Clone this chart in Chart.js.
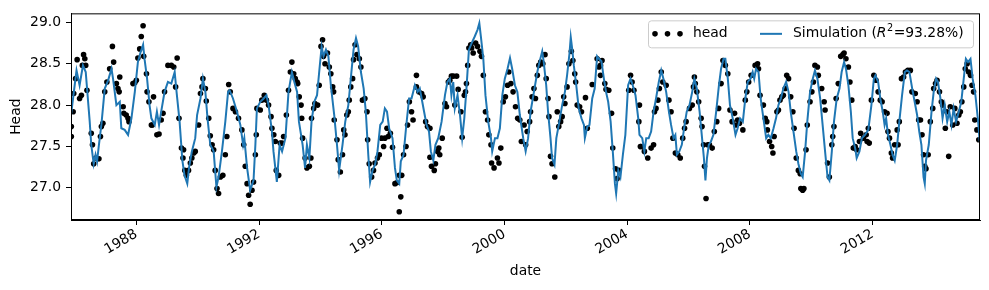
<!DOCTYPE html>
<html>
<head>
<meta charset="utf-8">
<script src="https://cdn.jsdelivr.net/npm/chart.js@4.4.1/dist/chart.umd.min.js"></script>
<style>
html, body { margin: 0; padding: 0; background: #fff; }
</style>
</head>
<body>
<canvas id="chart" width="989" height="290"></canvas>
<script>
// observed heads: [decimal year, head]
const headObs = [
  [1985.88,27.74],[1985.88,27.62],[1985.94,27.92],[1985.96,28.14],[1986.02,28.32],[1986.07,28.55],[1986.15,28.08],[1986.21,28.12],
  [1986.24,28.48],[1986.28,28.61],[1986.32,28.56],[1986.35,28.48],[1986.39,28.18],[1986.53,27.66],[1986.57,27.52],[1986.61,27.29],
  [1986.68,27.36],[1986.78,27.35],[1986.83,27.62],[1986.86,27.74],[1986.91,27.78],[1986.97,28.16],[1987.04,28.28],[1987.13,28.44],
  [1987.22,28.71],[1987.26,28.52],[1987.35,28.26],[1987.40,28.20],[1987.46,28.34],[1987.44,28.16],[1987.57,27.98],[1987.59,27.90],
  [1987.67,27.88],[1987.73,27.84],[1987.76,27.80],[1987.89,28.26],[1987.95,28.27],[1988.00,28.30],[1988.05,28.57],[1988.11,28.68],
  [1988.16,28.83],[1988.22,28.96],[1988.24,28.59],[1988.33,28.38],[1988.35,28.16],[1988.41,28.04],[1988.49,27.76],[1988.52,27.76],
  [1988.56,28.10],[1988.67,27.64],[1988.74,27.65],[1988.81,27.82],[1988.87,27.90],[1988.92,28.16],[1989.03,28.48],[1989.14,28.48],
  [1989.22,28.46],[1989.28,28.22],[1989.33,28.57],[1989.39,27.84],[1989.47,27.48],[1989.52,27.36],[1989.58,27.21],
  [1989.54,27.46],[1989.63,27.15],[1989.70,27.21],[1989.76,27.30],[1989.81,27.36],[1989.87,27.42],[1989.92,27.44],[1990.03,27.76],
  [1990.09,28.14],[1990.14,28.22],[1990.17,28.32],[1990.25,28.20],[1990.28,28.05],[1990.36,27.84],[1990.41,27.63],[1990.47,27.52],
  [1990.52,27.46],[1990.57,27.21],[1990.63,26.99],[1990.68,26.93],[1990.74,27.13],[1990.82,27.15],[1990.90,27.40],[1990.95,27.62],
  [1991.01,28.25],[1991.06,28.16],[1991.15,27.96],[1991.23,27.92],[1991.33,27.84],[1991.44,27.70],[1991.50,27.52],[1991.55,27.26],
  [1991.61,27.05],[1991.66,26.91],[1991.71,26.80],[1991.77,26.97],[1991.82,27.07],[1991.88,27.40],[1991.91,27.64],[1991.93,27.96],
  [1992.04,27.94],[1992.09,28.06],[1992.17,28.12],[1992.24,28.06],[1992.31,28.00],[1992.39,27.86],[1992.42,27.72],[1992.48,27.64],
  [1992.53,27.56],[1992.56,27.21],[1992.64,27.15],[1992.69,27.54],[1992.75,27.54],[1992.80,27.62],[1992.89,27.88],[1992.96,28.18],
  [1993.02,28.40],[1993.07,28.52],[1993.13,28.38],[1993.18,28.32],[1993.24,28.28],
  [1993.26,28.26],[1993.31,28.10],[1993.37,28.00],[1993.39,27.84],[1993.42,27.60],[1993.50,27.36],[1993.56,27.24],[1993.64,27.26],
  [1993.69,27.36],[1993.71,27.84],[1993.78,27.96],[1993.82,28.02],[1993.91,28.00],[1993.96,28.24],[1994.02,28.71],[1994.07,28.79],
  [1994.10,28.59],[1994.15,28.50],[1994.23,28.63],[1994.29,28.46],[1994.34,28.38],[1994.40,28.22],[1994.43,28.16],[1994.45,27.82],
  [1994.54,27.58],[1994.58,27.34],[1994.65,27.19],[1994.72,27.40],[1994.76,27.70],[1994.80,27.64],[1994.86,27.88],[1994.91,27.92],
  [1994.94,28.06],[1994.99,28.22],[1995.05,28.32],[1995.08,28.55],[1995.13,28.73],[1995.19,28.61],[1995.27,28.56],[1995.32,28.46],
  [1995.37,28.06],[1995.45,28.08],[1995.52,27.92],[1995.54,27.58],[1995.59,27.29],[1995.67,27.13],[1995.73,27.21],[1995.78,27.30],
  [1995.86,27.36],[1995.92,27.40],[1995.99,27.60],[1996.06,27.50],[1996.10,27.60],[1996.17,27.72],[1996.21,27.62],[1996.28,27.66],
  [1996.35,27.49],[1996.43,27.05],[1996.49,27.06],[1996.57,27.15],[1996.62,26.89],[1996.57,26.71],[1996.65,27.15],[1996.71,27.40],
  [1996.79,27.50],[1996.84,27.76],[1996.90,28.04],[1996.97,27.92],
  [1997.02,27.82],[1997.13,28.36],[1997.13,28.22],[1997.21,28.16],[1997.30,28.14],[1997.35,28.10],[1997.43,27.80],[1997.49,27.74],
  [1997.57,27.72],[1997.57,27.37],[1997.62,27.26],[1997.71,27.21],[1997.75,27.29],[1997.82,27.44],[1997.86,27.48],[1997.89,27.40],
  [1997.97,27.60],[1998.06,28.02],[1998.11,27.98],[1998.17,28.28],[1998.22,28.30],[1998.27,28.35],[1998.33,28.35],[1998.44,28.35],
  [1998.38,28.00],[1998.49,28.19],[1998.58,27.92],[1998.62,27.61],[1998.69,28.12],[1998.73,28.16],[1998.76,28.26],[1998.80,28.48],
  [1998.84,28.69],[1998.90,28.73],[1998.93,28.69],[1998.98,28.63],[1999.06,28.75],[1999.12,28.71],[1999.20,28.65],[1999.25,28.59],
  [1999.31,28.36],[1999.38,27.92],[1999.45,27.82],[1999.49,27.64],[1999.56,27.52],[1999.58,27.30],[1999.66,27.24],[1999.77,27.36],
  [1999.82,27.30],[1999.88,27.48],[1999.96,28.04],[2000.03,28.10],[2000.10,28.24],[2000.14,28.40],[2000.21,28.26],[2000.28,28.16],
  [2000.36,27.98],[2000.43,27.84],[2000.50,27.82],[2000.55,27.56],[2000.64,27.76],
  [2000.69,27.52],[2000.74,27.68],[2000.82,27.80],[2000.85,27.92],[2000.90,28.10],[2000.96,28.20],[2001.01,28.08],[2001.07,28.36],
  [2001.12,28.48],[2001.18,28.52],[2001.25,28.50],[2001.32,28.61],[2001.36,28.32],[2001.42,28.08],[2001.45,27.86],[2001.50,27.38],
  [2001.55,27.29],[2001.64,27.13],[2001.72,27.92],[2001.77,27.74],[2001.83,27.80],[2001.88,27.86],[2001.93,28.10],[2001.97,28.02],
  [2002.04,28.22],[2002.10,28.50],[2002.18,28.65],[2002.23,28.54],[2002.29,28.38],[2002.32,28.28],[2002.37,28.00],[2002.45,27.98],
  [2002.51,27.92],[2002.64,28.09],[2002.70,27.72],[2002.86,28.25],[2003.02,28.56],[2003.08,28.46],[2003.13,28.48],[2003.18,28.54],
  [2003.13,28.36],[2003.27,28.26],[2003.31,28.19],[2003.40,28.18],[2003.49,27.90],[2003.53,27.48],[2003.62,27.23],[2003.67,27.11],
  [2003.73,27.21],[2004.05,28.18],[2004.11,28.36],[2004.16,28.28],[2004.22,28.18],[2004.38,27.80],[2004.43,27.50],
  [2004.40,28.00],[2004.45,27.50],[2004.56,27.44],[2004.67,27.36],[2004.78,27.48],[2004.86,27.52],[2004.89,27.92],[2004.94,27.96],
  [2005.00,28.06],[2005.05,28.20],[2005.11,28.40],[2005.16,28.28],[2005.27,28.24],[2005.36,28.06],[2005.43,27.92],[2005.49,27.60],
  [2005.57,27.42],[2005.65,27.40],[2005.73,27.36],[2005.81,27.60],[2005.87,27.72],[2005.92,27.80],[2006.03,27.96],[2006.12,28.00],
  [2006.16,28.22],[2006.19,28.34],[2006.22,28.26],[2006.27,28.16],[2006.33,28.04],[2006.41,27.84],[2006.44,27.74],[2006.49,27.52],
  [2006.52,27.26],[2006.57,26.87],[2006.63,27.52],[2006.68,27.52],[2006.77,27.48],[2006.84,27.68],[2006.92,27.80],[2006.98,27.96],
  [2007.06,28.26],[2007.12,28.54],[2007.20,28.48],[2007.28,28.38],[2007.35,27.94],[2007.42,27.80],[2007.50,27.90],[2007.55,27.76],
  [2007.60,27.82],[2007.66,27.78],[2007.77,27.70],[2007.85,28.06],[2007.90,28.16],[2007.96,28.28],[2008.04,28.36],
  [2008.17,28.48],[2008.25,28.50],[2008.28,28.44],[2008.33,28.12],[2008.44,28.00],[2008.50,27.84],[2008.55,27.80],[2008.57,27.70],
  [2008.64,27.56],[2008.71,27.50],[2008.75,27.42],[2008.79,27.62],[2008.88,27.92],[2008.93,27.94],[2008.98,28.06],[2009.04,28.10],
  [2009.09,28.12],[2009.15,28.20],[2009.20,28.36],[2009.26,28.32],[2009.33,28.10],[2009.40,27.92],[2009.44,27.72],[2009.51,27.36],
  [2009.58,27.21],[2009.64,27.17],[2009.66,26.99],[2009.72,26.97],[2009.76,26.99],[2009.83,27.46],[2009.87,27.76],[2009.96,28.04],
  [2010.02,28.16],[2010.07,28.28],[2010.12,28.48],[2010.20,28.46],[2010.23,28.36],[2010.34,28.20],[2010.42,28.04],[2010.45,27.94],
  [2010.53,27.30],[2010.59,27.13],[2010.67,27.52],[2010.70,27.62],[2010.74,27.74],[2010.81,28.08],[2010.88,28.26],[2010.96,28.59],
  [2011.03,28.61],[2011.07,28.63],[2011.13,28.56],[2011.21,28.46],[2011.26,28.28],[2011.32,28.06],[2011.37,27.48],[2011.43,27.50],
  [2011.48,27.46],[2011.57,27.56],[2011.61,27.66],[2011.70,27.60],[2011.79,27.64],[2011.86,27.72],
  [2011.82,27.56],[2011.89,27.54],[2011.96,28.06],[2012.04,28.36],[2012.11,28.30],[2012.18,28.16],[2012.25,28.06],[2012.31,28.04],
  [2012.39,27.92],[2012.47,27.90],[2012.50,27.68],[2012.55,27.60],[2012.61,27.42],[2012.65,27.36],[2012.72,27.52],[2012.80,27.70],
  [2012.83,27.52],[2012.87,27.80],[2012.94,28.32],[2013.01,28.34],[2013.07,28.40],[2013.15,28.42],[2013.23,28.42],[2013.28,28.16],
  [2013.39,28.14],[2013.45,28.04],[2013.50,27.82],[2013.56,27.82],[2013.61,27.64],[2013.66,27.40],[2013.70,27.26],[2013.74,27.23],
  [2013.81,27.40],[2013.88,27.80],[2013.96,27.96],[2013.99,28.20],[2014.05,28.26],[2014.10,28.30],[2014.18,28.16],[2014.24,28.04],
  [2014.28,28.00],[2014.37,27.72],[2014.42,27.92],[2014.48,27.38],[2014.53,27.98],[2014.61,27.76],[2014.68,27.96],[2014.75,27.78],
  [2014.81,27.88],[2014.86,27.92],[2014.91,28.04],[2014.97,28.22],[2015.02,28.44],[2015.08,28.50],[2015.13,28.40],[2015.19,28.36],
  [2015.24,28.24],[2015.29,28.16],[2015.33,27.82],[2015.40,27.70],[2015.46,27.58]
];

// simulated heads: [decimal year, head]
const headSim = [
  [1985.87,27.88],[1986.05,28.42],[1986.15,28.24],[1986.26,28.48],[1986.35,28.40],[1986.48,27.80],[1986.53,27.52],[1986.61,27.29],
  [1986.67,27.40],[1986.72,27.32],[1986.78,27.52],[1986.86,27.76],[1986.97,28.20],[1987.08,28.30],[1987.19,28.44],[1987.24,28.32],
  [1987.35,28.00],[1987.46,28.04],[1987.51,27.72],[1987.62,27.70],[1987.73,27.64],[1987.84,27.84],[1987.95,28.16],[1988.05,28.52],
  [1988.13,28.63],[1988.22,28.73],[1988.27,28.55],[1988.35,28.32],[1988.43,28.00],[1988.49,27.84],[1988.60,27.76],[1988.67,27.92],
  [1988.74,27.76],[1988.81,27.92],[1988.92,28.16],[1989.03,28.28],[1989.14,28.26],[1989.25,28.40],[1989.30,28.20],[1989.41,27.80],
  [1989.50,27.33],[1989.57,27.15],[1989.66,27.05],[1989.72,27.25],[1989.81,27.44],[1989.92,27.60],[1989.98,27.88],[1990.09,28.08],
  [1990.17,28.32],[1990.25,28.16],[1990.32,27.84],[1990.41,27.52],[1990.52,27.44],[1990.61,27.01],[1990.68,27.13],[1990.79,27.44],
  [1990.90,27.80],[1990.99,28.16],[1991.04,28.18],[1991.15,28.08],[1991.28,27.92],[1991.39,27.76],[1991.48,27.52],[1991.52,27.60],
  [1991.61,27.24],[1991.71,26.97],[1991.82,27.09],[1991.88,27.52],[1991.93,27.96],[1992.04,28.04],[1992.15,28.08],[1992.24,28.12],
  [1992.31,28.00],[1992.42,27.68],[1992.47,27.44],[1992.58,27.07],[1992.67,27.52],[1992.75,27.44],[1992.86,27.60],[1992.96,28.16],
  [1993.07,28.40],[1993.15,28.28],[1993.24,28.16],[1993.30,27.80],[1993.42,27.52],[1993.50,27.24],[1993.56,27.52],[1993.64,27.36],
  [1993.71,27.80],[1993.80,28.04],[1993.89,28.12],[1993.96,28.40],[1994.04,28.71],[1994.10,28.59],[1994.18,28.67],[1994.26,28.59],
  [1994.34,28.24],[1994.45,27.88],[1994.54,27.52],[1994.61,27.21],[1994.72,27.52],[1994.81,27.80],[1994.91,28.00],[1994.99,28.32],
  [1995.08,28.67],[1995.16,28.81],[1995.23,28.71],[1995.32,28.40],[1995.41,28.20],[1995.48,27.92],[1995.56,27.40],[1995.62,27.07],
  [1995.70,27.21],[1995.78,27.28],[1995.86,27.44],[1995.95,27.76],[1996.03,27.80],[1996.10,27.96],[1996.17,27.92],[1996.24,27.72],
  [1996.35,27.60],[1996.43,27.24],[1996.49,27.09],[1996.57,27.05],[1996.62,27.32],[1996.71,27.40],[1996.79,27.72],[1996.89,28.08],
  [1996.97,28.08],[1997.08,28.24],[1997.17,28.16],[1997.24,28.20],[1997.32,28.04],[1997.38,27.92],[1997.46,27.76],[1997.54,27.68],
  [1997.60,27.44],[1997.68,27.33],[1997.75,27.52],[1997.84,27.60],[1997.95,27.80],[1998.06,28.12],[1998.14,28.28],[1998.22,28.32],
  [1998.27,28.12],[1998.33,28.28],[1998.38,27.96],[1998.47,28.12],[1998.55,27.88],[1998.62,27.60],[1998.69,27.84],[1998.76,28.20],
  [1998.84,28.67],[1998.93,28.75],[1999.03,28.83],[1999.12,28.91],[1999.18,28.99],[1999.23,28.83],[1999.31,28.56],[1999.38,28.12],
  [1999.47,27.80],[1999.56,27.60],[1999.60,27.44],[1999.69,27.60],[1999.77,27.60],[1999.85,27.72],[1999.93,28.12],[2000.01,28.32],
  [2000.10,28.44],[2000.18,28.57],[2000.25,28.44],[2000.34,28.24],[2000.42,28.16],[2000.50,27.88],[2000.61,27.60],[2000.69,27.44],
  [2000.77,27.60],[2000.85,27.92],[2000.96,28.16],[2001.07,28.40],[2001.14,28.52],[2001.23,28.65],[2001.28,28.52],[2001.36,28.24],
  [2001.42,27.92],[2001.50,27.60],[2001.55,27.36],[2001.63,27.28],[2001.69,27.60],[2001.77,27.76],[2001.88,28.00],[2001.97,28.16],
  [2002.04,28.36],[2002.12,28.63],[2002.16,28.82],[2002.21,28.67],[2002.26,28.48],[2002.34,28.24],[2002.42,27.96],[2002.51,27.84],
  [2002.59,27.76],[2002.62,27.60],[2002.70,27.74],[2002.77,27.76],[2002.86,28.08],[2002.94,28.20],[2003.02,28.59],[2003.08,28.56],
  [2003.16,28.53],[2003.24,28.32],[2003.31,28.16],[2003.38,28.04],[2003.46,27.80],[2003.53,27.44],[2003.60,27.05],[2003.64,26.93],
  [2003.71,27.21],[2003.78,27.13],[2003.86,27.40],[2003.94,27.64],[2004.03,28.24],[2004.11,28.32],[2004.18,28.24],[2004.27,28.12],
  [2004.36,27.84],[2004.40,27.64],[2004.49,27.60],[2004.56,27.44],[2004.62,27.60],[2004.70,27.60],[2004.78,27.68],[2004.86,27.92],
  [2004.94,28.08],[2005.03,28.28],[2005.11,28.42],[2005.18,28.32],[2005.27,28.16],[2005.36,27.92],[2005.43,27.76],[2005.51,27.60],
  [2005.57,27.64],[2005.62,27.40],[2005.70,27.44],[2005.78,27.52],[2005.87,27.76],[2005.94,27.92],[2006.03,28.00],[2006.12,28.16],
  [2006.19,28.32],[2006.27,28.20],[2006.36,27.92],[2006.44,27.60],[2006.50,27.36],[2006.55,27.09],[2006.60,27.36],[2006.66,27.52],
  [2006.73,27.56],[2006.81,27.64],[2006.90,27.92],[2006.99,28.24],[2007.06,28.44],[2007.14,28.56],[2007.20,28.56],[2007.28,28.32],
  [2007.35,28.00],[2007.44,27.84],[2007.53,27.64],[2007.60,27.72],[2007.68,27.84],[2007.77,27.80],[2007.85,28.08],[2007.93,28.28],
  [2008.02,28.32],[2008.09,28.40],[2008.14,28.32],[2008.20,28.44],[2008.28,28.40],[2008.35,28.08],[2008.44,27.84],[2008.53,27.60],
  [2008.60,27.64],[2008.68,27.60],[2008.77,27.72],[2008.85,27.84],[2008.93,28.00],[2009.01,28.08],[2009.09,28.20],[2009.18,28.28],
  [2009.26,28.16],[2009.33,27.92],[2009.42,27.68],[2009.51,27.44],[2009.58,27.29],[2009.66,27.17],[2009.72,27.13],[2009.80,27.44],
  [2009.87,27.80],[2009.96,28.16],[2010.05,28.32],[2010.12,28.42],[2010.20,28.32],[2010.29,28.08],[2010.37,27.76],[2010.45,27.44],
  [2010.53,27.13],[2010.59,27.09],[2010.67,27.44],[2010.74,27.80],[2010.83,28.08],[2010.92,28.20],[2010.99,28.40],[2011.07,28.52],
  [2011.13,28.44],[2011.21,28.24],[2011.29,27.92],[2011.35,27.60],[2011.43,27.48],[2011.48,27.36],[2011.57,27.44],[2011.65,27.60],
  [2011.75,27.64],[2011.86,27.70],[2011.96,28.00],[2012.04,28.32],[2012.09,28.36],[2012.18,28.28],[2012.25,28.08],[2012.33,27.92],
  [2012.39,27.76],[2012.44,27.84],[2012.50,27.64],[2012.58,27.52],[2012.65,27.40],[2012.72,27.33],[2012.80,27.52],[2012.87,27.80],
  [2012.96,28.12],[2013.05,28.40],[2013.12,28.42],[2013.20,28.40],[2013.29,28.20],[2013.37,28.04],[2013.45,27.88],[2013.52,27.68],
  [2013.59,27.52],[2013.66,27.13],[2013.70,27.05],[2013.74,27.33],[2013.83,27.52],[2013.92,27.92],[2013.99,28.16],[2014.07,28.32],
  [2014.13,28.28],[2014.21,28.08],[2014.28,27.84],[2014.35,28.00],[2014.43,27.80],[2014.50,27.92],[2014.57,27.76],[2014.64,27.96],
  [2014.72,27.80],[2014.81,27.92],[2014.89,28.04],[2014.97,28.32],[2015.04,28.56],[2015.11,28.52],[2015.19,28.56],[2015.26,28.32],
  [2015.35,28.12],[2015.44,27.80],[2015.49,27.56]
];

const xTicks = [1988, 1992, 1996, 2000, 2004, 2008, 2012];
const yTicks = [27.0, 27.5, 28.0, 28.5, 29.0];
const r2Text = '=93.28%)';

const FONT = 'DejaVu Sans';
const BLUE = '#1f77b4';
Chart.defaults.font.family = FONT;
Chart.defaults.color = '#000';

// top and right spines, like matplotlib
const frame = {
  id: 'frame',
  afterDatasetsDraw(chart) {
    const a = chart.chartArea;
    const c = chart.ctx;
    c.save();
    c.strokeStyle = '#000';
    c.lineWidth = 1;
    c.strokeRect(a.left + 0.5, a.top + 0.5, a.right - a.left - 1, a.bottom - a.top - 1);
    c.restore();
  }
};

// legend box with the mathtext R^2 label
const legendBox = {
  id: 'legendBox',
  afterDraw(chart) {
    const a = chart.chartArea;
    const c = chart.ctx;
    const w = 325, h = 27;
    const x0 = a.right - 7 - w, y0 = a.top + 7;
    const cy = y0 + h / 2;
    c.save();
    c.beginPath();
    c.roundRect(x0 + 0.5, y0 + 0.5, w, h, 3);
    c.fillStyle = 'rgba(255,255,255,0.8)';
    c.fill();
    c.strokeStyle = '#cccccc';
    c.lineWidth = 1;
    c.stroke();

    c.fillStyle = '#000';
    [7, 19.5, 32].forEach(dx => {
      c.beginPath();
      c.arc(x0 + dx, cy, 2.8, 0, Math.PI * 2);
      c.fill();
    });

    c.textBaseline = 'middle';
    c.font = '13.9px "' + FONT + '"';
    c.fillText('head', x0 + 45, cy);

    c.strokeStyle = BLUE;
    c.lineWidth = 2;
    c.beginPath();
    c.moveTo(x0 + 112, cy);
    c.lineTo(x0 + 134, cy);
    c.stroke();

    let x = x0 + 145;
    c.fillText('Simulation (', x, cy);
    x += c.measureText('Simulation (').width;
    c.font = 'italic 13.9px "' + FONT + '"';
    c.fillText('R', x, cy);
    x += c.measureText('R').width + 0.5;
    c.font = '9.7px "' + FONT + '"';
    c.fillText('2', x, cy - 5);
    x += c.measureText('2').width + 0.5;
    c.font = '13.9px "' + FONT + '"';
    c.fillText(r2Text, x, cy);
    c.restore();
  }
};

new Chart(document.getElementById('chart'), {
  type: 'scatter',
  data: {
    datasets: [
      {
        label: 'Simulation',
        data: headSim.map(p => ({x: p[0], y: p[1]})),
        showLine: true,
        borderColor: BLUE,
        borderWidth: 2,
        pointRadius: 0,
        tension: 0,
        order: 0
      },
      {
        label: 'head',
        data: headObs.map(p => ({x: p[0], y: p[1]})),
        backgroundColor: '#000',
        borderWidth: 0,
        pointRadius: 2.8,
        order: 1
      }
    ]
  },
  options: {
    responsive: false,
    animation: false,
    layout: {padding: {left: 0, right: 9, top: 10, bottom: 0}},
    plugins: {legend: {display: false}, tooltip: {enabled: false}},
    scales: {
      x: {
        type: 'linear',
        min: 1985.87,
        max: 2015.5,
        afterBuildTicks: s => { s.ticks = xTicks.map(v => ({value: v})); },
        afterFit: s => { s.height = 70; },
        ticks: {
          autoSkip: false,
          minRotation: 30,
          maxRotation: 30,
          padding: 1,
          font: {size: 13.9},
          color: '#000',
          callback: v => String(v)
        },
        grid: {drawOnChartArea: false, drawTicks: true, tickLength: 5, tickColor: '#000', tickWidth: 1},
        border: {display: true, color: '#000', width: 1},
        title: {display: true, text: 'date', font: {size: 13.9}, color: '#000', padding: {top: 0, bottom: 10}}
      },
      y: {
        min: 26.61,
        max: 29.11,
        afterBuildTicks: s => { s.ticks = yTicks.map(v => ({value: v})); },
        afterFit: s => { s.width = 71; },
        ticks: {
          padding: 5,
          font: {size: 13.9},
          color: '#000',
          callback: v => v.toFixed(1)
        },
        grid: {drawOnChartArea: false, drawTicks: true, tickLength: 5, tickColor: '#000', tickWidth: 1},
        border: {display: true, color: '#000', width: 1},
        title: {display: true, text: 'Head', font: {size: 13.9}, color: '#000', padding: {top: 8, bottom: 0}}
      }
    }
  },
  plugins: [frame, legendBox]
});
</script>
</body>
</html>
